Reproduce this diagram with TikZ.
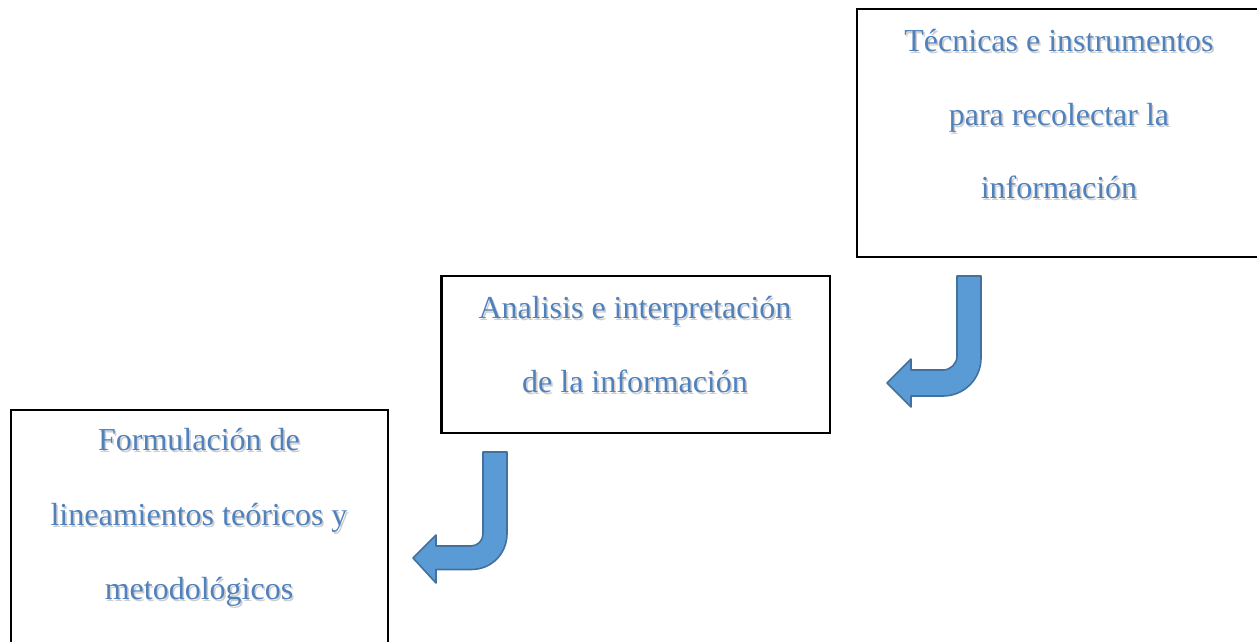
\documentclass[tikz,border=0pt]{standalone}
\usepackage{fontspec}
\setmainfont{Liberation Serif}
\definecolor{txtblue}{HTML}{4F81BD}
\definecolor{arrfill}{HTML}{5B9BD5}
\definecolor{arrline}{HTML}{41719C}
\tikzset{
  boxstyle/.style={draw=black, line width=2.2pt, fill=none, inner sep=0pt},
  txt/.style={text=txtblue, font=\fontsize{32}{38}\selectfont, anchor=base, inner sep=0pt},
  txtshadow/.style={text=black!55, opacity=0.35, font=\fontsize{32}{38}\selectfont, anchor=base, inner sep=0pt},
  bentarrow/.style={fill=arrfill, draw=arrline, line width=1.6pt, line join=round}
}
\newcommand{\shadowline}[4]{%
  \node[txtshadow] (#1s) at (#2+1.6,#3+2.0) {#4};
  \node[txt] (#1) at (#2,#3) {#4};}
\begin{document}
\begin{tikzpicture}[x=1pt,y=-1pt]
\useasboundingbox (0,0) rectangle (1257,641);
\clip (0,0) rectangle (1257,641);
\fill[white] (0,0) rectangle (1257,641);

% boxes
\node[boxstyle, minimum width=413pt, minimum height=248pt] (b1) at (1063.5,133) {};
\node[boxstyle, minimum width=388.5pt, minimum height=157pt] (b2) at (635.75,354.5) {};
\node[boxstyle, minimum width=377pt, minimum height=250pt] (b3) at (199.5,535) {};

% texts
\shadowline{t1a}{1059}{51.5}{Técnicas e instrumentos}
\shadowline{t1b}{1059}{125}{para recolectar la}
\shadowline{t1c}{1059}{198.5}{información}

\shadowline{t2a}{635}{318}{Analisis e interpretación}
\shadowline{t2b}{635}{392}{de la información}

\shadowline{t3a}{199}{450.5}{Formulación de}
\shadowline{t3b}{199}{525}{lineamientos teóricos y}
\shadowline{t3c}{199}{599.5}{metodológicos}

% bent arrow 1
\draw[bentarrow] (957,276) -- (981,276) -- (981,358)
  .. controls (981,379) and (964,396) .. (943,396)
  -- (911,396) -- (911,407) -- (887,383) -- (911,359) -- (911,370)
  -- (943,370) .. controls (950.7,370) and (957,363.7) .. (957,356) -- cycle;

% bent arrow 2
\draw[bentarrow] (483,452) -- (507,452) -- (507,533.5)
  .. controls (507,553.4) and (491.9,569.5) .. (471,569.5)
  -- (436,569.5) -- (436,583) -- (413,558) -- (436,535) -- (436,546)
  -- (471,546) .. controls (477.6,546) and (483,540.6) .. (483,534) -- cycle;
\end{tikzpicture}
\end{document}
